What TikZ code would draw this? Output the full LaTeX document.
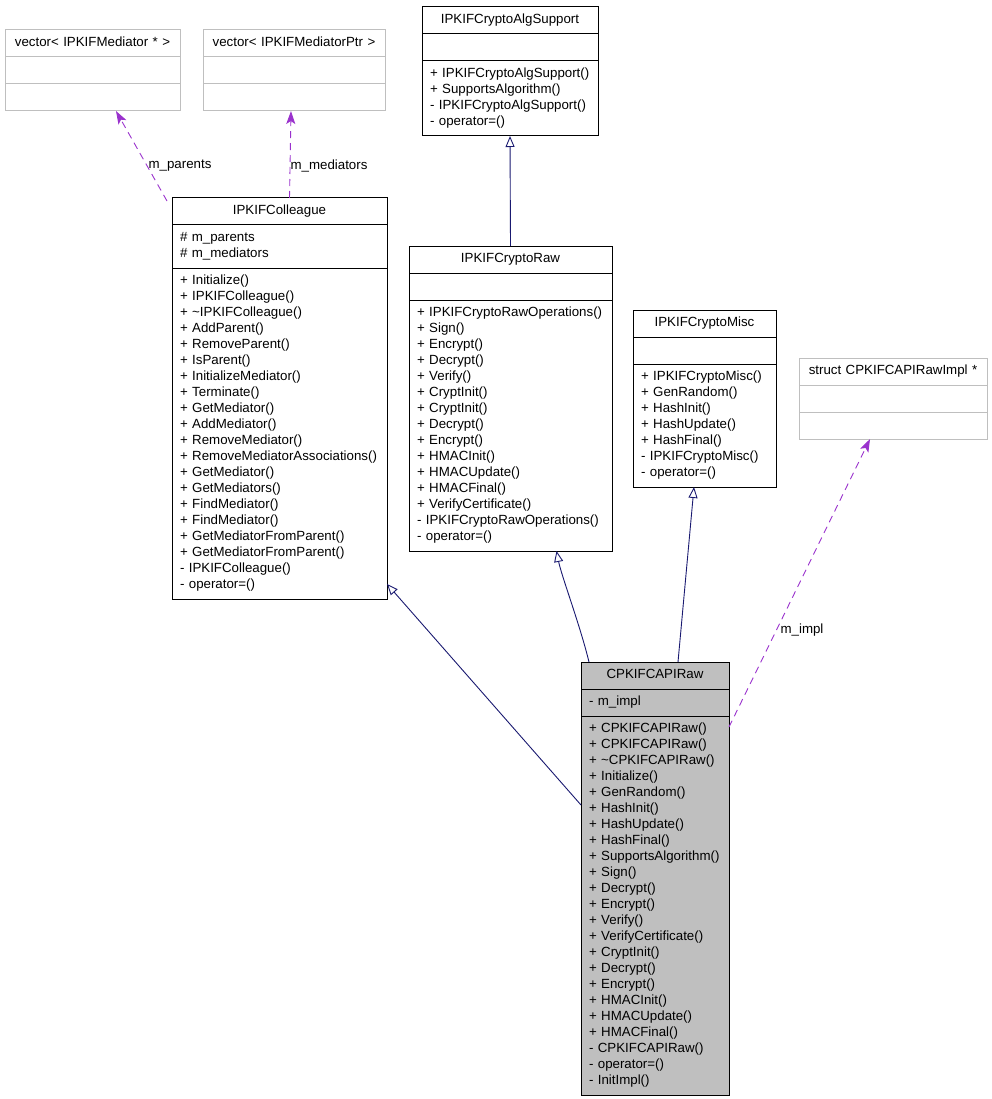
\documentclass[tikz,border=0pt]{standalone}
\usepackage{fontspec}
\setmainfont{Liberation Sans}
\usetikzlibrary{shapes.multipart,arrows.meta}

\newcommand{\clstitle}[1]{\makebox[\hsize]{\strut #1}}

\tikzset{
  cls/.style={rectangle split, rectangle split parts=3, draw, line width=1pt,
    inner xsep=8pt, inner ysep=5pt, outer sep=0pt, anchor=north west, align=left},
  tmpl/.style={cls, draw=boxgrey},
  inherit/.style={draw=edgeblue, line width=0.9pt,
    -{Triangle[open, length=11pt, width=9pt]}},
  uses/.style={draw=edgepurple, line width=0.9pt, dash pattern=on 7pt off 5pt,
    -{Stealth[length=13pt, width=9pt, inset=3pt]}},
  lbl/.style={inner sep=0pt}
}

\begin{document}
\begin{tikzpicture}[x=1pt, y=-1pt, font=\fontsize{13.3}{16}\selectfont]
  \definecolor{boxgrey}{HTML}{BFBFBF}
  \definecolor{edgeblue}{HTML}{191970}
  \definecolor{edgepurple}{HTML}{9A32CD}
  \useasboundingbox (0,0) rectangle (991,1099);

  % templates used by IPKIFColleague
  \node[tmpl, text width=159pt] (vecraw) at (5,30)
    {\clstitle{vector< IPKIFMediator * >}\nodepart{two}\strut\nodepart{three}\strut};
  \node[tmpl, text width=166pt] (vecptr) at (203,30)
    {\clstitle{vector< IPKIFMediatorPtr >}\nodepart{two}\strut\nodepart{three}\strut};

  \node[cls, text width=160pt] (algsup) at (422,7)
    {\clstitle{IPKIFCryptoAlgSupport}\nodepart{two}\strut
     \nodepart{three}\strut+~IPKIFCryptoAlgSupport()\\\strut+~SupportsAlgorithm()\\
     \strut-~IPKIFCryptoAlgSupport()\\\strut-~operator=()};

  \node[cls, text width=199pt] (colleague) at (172,198)
    {\clstitle{IPKIFColleague}
     \nodepart{two}\strut\#~m\_parents\\\strut\#~m\_mediators
     \nodepart{three}\strut+~Initialize()\\\strut+~IPKIFColleague()\\
     \strut+~\textasciitilde IPKIFColleague()\\\strut+~AddParent()\\
     \strut+~RemoveParent()\\\strut+~IsParent()\\\strut+~InitializeMediator()\\
     \strut+~Terminate()\\\strut+~GetMediator()\\\strut+~AddMediator()\\
     \strut+~RemoveMediator()\\\strut+~RemoveMediatorAssociations()\\
     \strut+~GetMediator()\\\strut+~GetMediators()\\\strut+~FindMediator()\\
     \strut+~FindMediator()\\\strut+~GetMediatorFromParent()\\
     \strut+~GetMediatorFromParent()\\\strut-~IPKIFColleague()\\\strut-~operator=()};

  \node[cls, text width=187pt] (cryptoraw) at (409,246)
    {\clstitle{IPKIFCryptoRaw}\nodepart{two}\strut
     \nodepart{three}\strut+~IPKIFCryptoRawOperations()\\\strut+~Sign()\\
     \strut+~Encrypt()\\\strut+~Decrypt()\\\strut+~Verify()\\\strut+~CryptInit()\\
     \strut+~CryptInit()\\\strut+~Decrypt()\\\strut+~Encrypt()\\\strut+~HMACInit()\\
     \strut+~HMACUpdate()\\\strut+~HMACFinal()\\\strut+~VerifyCertificate()\\
     \strut-~IPKIFCryptoRawOperations()\\\strut-~operator=()};

  \node[cls, text width=127pt] (cryptomisc) at (633,310)
    {\clstitle{IPKIFCryptoMisc}\nodepart{two}\strut
     \nodepart{three}\strut+~IPKIFCryptoMisc()\\\strut+~GenRandom()\\
     \strut+~HashInit()\\\strut+~HashUpdate()\\\strut+~HashFinal()\\
     \strut-~IPKIFCryptoMisc()\\\strut-~operator=()};

  \node[tmpl, text width=172pt] (implstruct) at (799,358)
    {\clstitle{struct CPKIFCAPIRawImpl *}\nodepart{two}\strut\nodepart{three}\strut};

  \node[cls, fill=boxgrey, text width=132pt] (capi) at (581,662)
    {\clstitle{CPKIFCAPIRaw}
     \nodepart{two}\strut-~m\_impl
     \nodepart{three}\strut+~CPKIFCAPIRaw()\\\strut+~CPKIFCAPIRaw()\\
     \strut+~\textasciitilde CPKIFCAPIRaw()\\\strut+~Initialize()\\
     \strut+~GenRandom()\\\strut+~HashInit()\\\strut+~HashUpdate()\\
     \strut+~HashFinal()\\\strut+~SupportsAlgorithm()\\\strut+~Sign()\\
     \strut+~Decrypt()\\\strut+~Encrypt()\\\strut+~Verify()\\
     \strut+~VerifyCertificate()\\\strut+~CryptInit()\\\strut+~Decrypt()\\
     \strut+~Encrypt()\\\strut+~HMACInit()\\\strut+~HMACUpdate()\\
     \strut+~HMACFinal()\\\strut-~CPKIFCAPIRaw()\\\strut-~operator=()\\
     \strut-~InitImpl()};

  % inheritance
  \draw[inherit] (cryptoraw.north) -- (algsup.south);
  \draw[inherit] ([yshift=-143pt]capi.north west) -- ([yshift=15pt]colleague.south east);
  \draw[inherit] ([xshift=8pt]capi.north west)
    .. controls +(-9,-37) and +(5,25) .. ([xshift=46pt]cryptoraw.south);
  \draw[inherit] ([xshift=97pt]capi.north west) -- ([xshift=-10.5pt]cryptomisc.south);

  % members
  \draw[uses] ([xshift=-5pt,yshift=-3pt]colleague.north west) -- ([xshift=23.5pt]vecraw.south);
  \draw[uses] ([xshift=10pt]colleague.north) -- ([xshift=-3pt]vecptr.south);
  \draw[uses] ([yshift=-65pt]capi.north east) -- ([xshift=-23pt]implstruct.south);
  \node[lbl] (lparents) at (180,166) {m\_parents};
  \node[lbl] (lmediators) at (329,166) {m\_mediators};
  \node[lbl] (limpl) at (802,630) {m\_impl};
\end{tikzpicture}
\end{document}
